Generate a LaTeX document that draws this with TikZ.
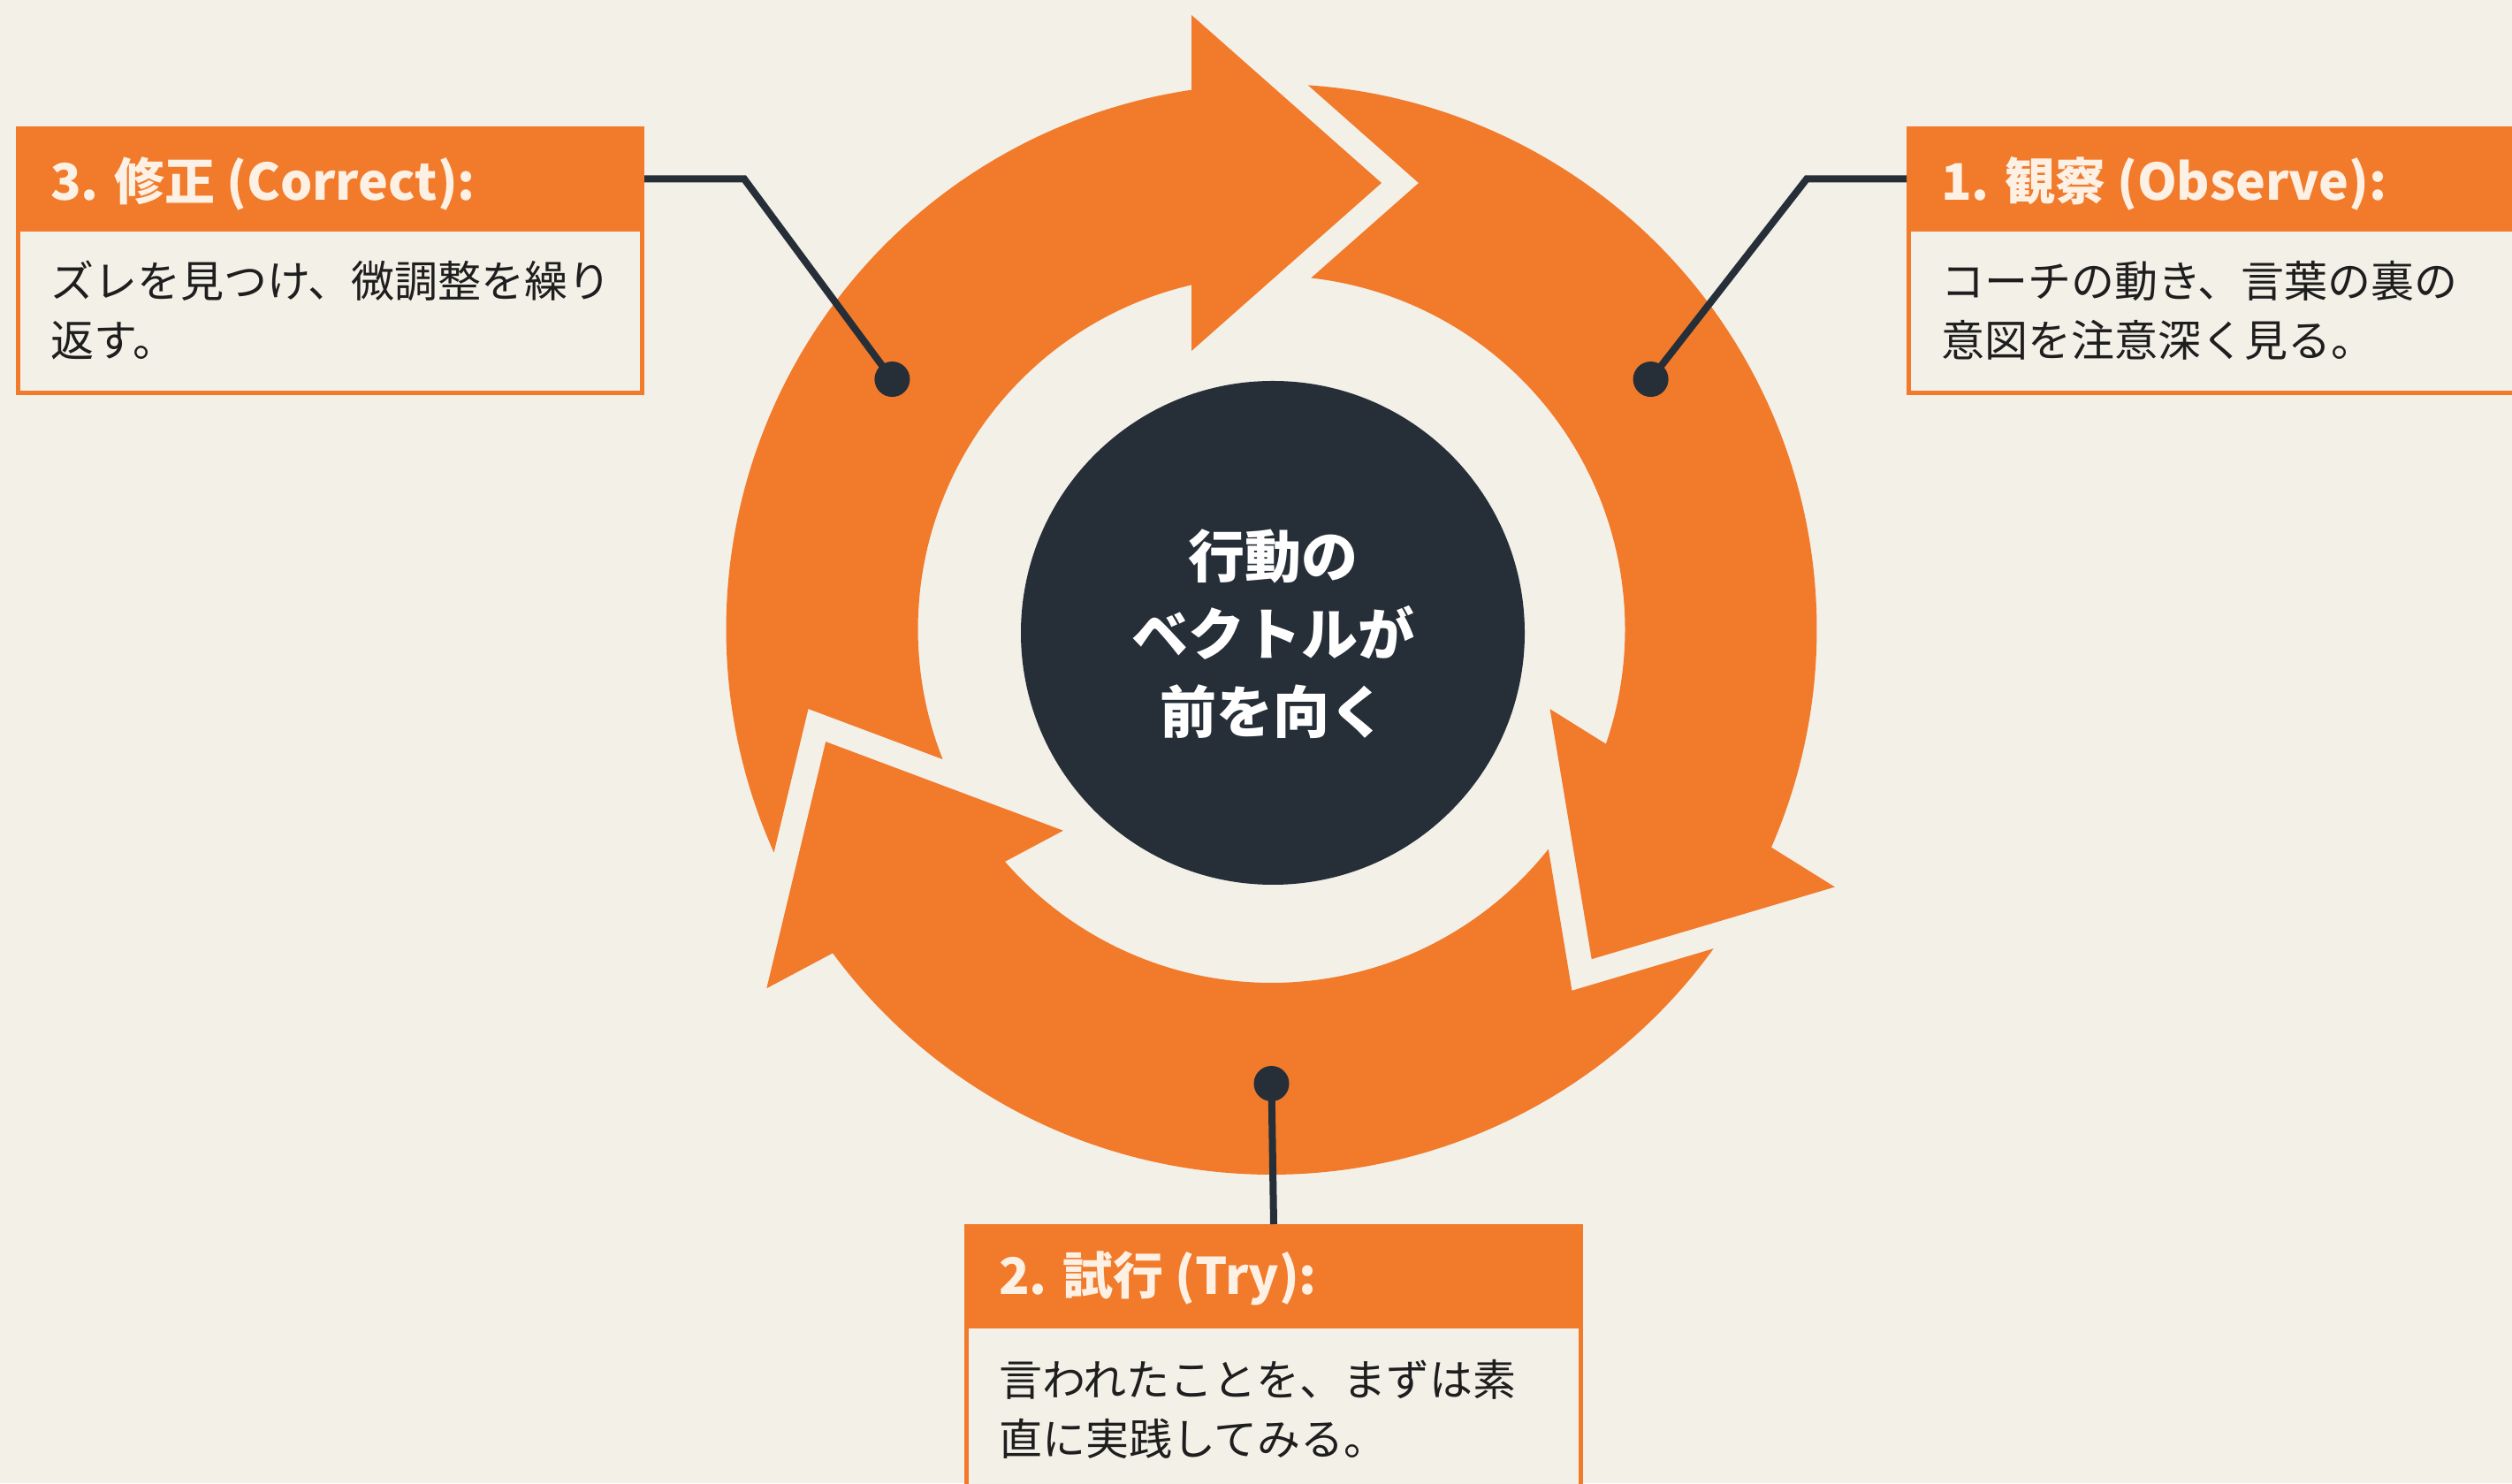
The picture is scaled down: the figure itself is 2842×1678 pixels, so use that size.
\documentclass[tikz,border=0pt]{standalone}
\usepackage{fontspec}
\newfontfamily\jp{Noto Sans CJK JP}
\usetikzlibrary{calc}
\definecolor{bg}{HTML}{F3F0E8}
\definecolor{ora}{HTML}{F27A2B}
\definecolor{dark}{HTML}{262F38}
\definecolor{hdtext}{HTML}{FCF1E4}
\definecolor{bodytext}{HTML}{1E1E1E}
\tikzset{
 hdrbox/.style={fill=ora, draw=ora, line width=5pt, inner sep=0pt, anchor=north west},
 bodybox/.style={fill=bg, draw=ora, line width=5pt, inner sep=0pt, anchor=north west},
 hdrtxt/.style={text=hdtext, font=\jp\bfseries\fontsize{57}{70}\selectfont, anchor=base west, inner sep=0pt},
 bodytxt/.style={text=bodytext, font=\jp\fontsize{49}{67}\selectfont, align=left, anchor=base west, inner sep=0pt},
 centertxt/.style={text=white, font=\jp\bfseries\fontsize{64}{88}\selectfont, align=center, inner sep=0pt},
 hubdisc/.style={circle, fill=dark, minimum size=570pt, inner sep=0pt},
 dotmark/.style={circle, fill=dark, minimum size=40pt, inner sep=0pt},
 conn/.style={draw=dark, line width=8pt},
}
% #1 = rotation of head, #2 = rotation of tail
\newcommand\ringarrow[2]{%
 \fill[ora,shift={(C)}] ({86.16+(#2)}:617) arc[start angle={86.16+(#2)}, end angle={98.43+(#1)}, radius=617]
   -- ({97.42+(#1)}:700.9) -- ({76.15+(#1)}:520.1) -- ({106.03+(#1)}:327.7)
   -- ({103.08+(#1)}:400) arc[start angle={103.08+(#1)}, end angle={83.57+(#2)}, radius=400]
   -- ({71.75+(#2)}:531.7) -- cycle;
}
\begin{document}
\begin{tikzpicture}[x=1pt,y=1pt]
\fill[bg] (0,0) rectangle (2842,1678);
\useasboundingbox (0,0) rectangle (2842,1678);

\coordinate (C) at (1438.5,966);
% three ring arrows
\ringarrow{0}{118}
\ringarrow{-122}{0}
\ringarrow{-242}{-122}

% hub
\node[hubdisc] (hub) at (1440,962) {};
\node[centertxt] (hubtxt) at (1440,961) {行動の\\ベクトルが\\前を向く};

% box 3 (top left)
\node[bodybox, minimum width=706, minimum height=299] (b3) at (18,1535) {};
\node[hdrbox, minimum width=706, minimum height=114] (h3) at (18,1535) {};
\node[hdrtxt] (t3) at (57,1451) {3. 修正 (Correct):};
\node[bodytxt] (x3) at (57,1274) {ズレを見つけ、微調整を繰り\\返す。};

% box 1 (top right)
\node[bodybox, minimum width=743, minimum height=299] (b1) at (2157,1535) {};
\node[hdrbox, minimum width=743, minimum height=114] (h1) at (2157,1535) {};
\node[hdrtxt] (t1) at (2196,1451) {1. 観察 (Observe):};
\node[bodytxt] (x1) at (2196,1274) {コーチの動き、言葉の裏の\\意図を注意深く見る。};

% box 2 (bottom)
\node[bodybox, minimum width=695, minimum height=330] (b2) at (1091,293) {};
\node[hdrbox, minimum width=695, minimum height=113] (h2) at (1091,293) {};
\node[hdrtxt] (t2) at (1130,213) {2. 試行 (Try):};
\node[bodytxt] (x2) at (1130,31) {言われたことを、まずは素\\直に実践してみる。};

% dots on the ring
\node[dotmark] (d3) at ($(C)+(146.6:514)$) {};
\node[dotmark] (d1) at ($(C)+(33.4:514)$) {};
\node[dotmark] (d2) at ($(C)+(-90:514)$) {};

% connectors
\draw[conn] (h3.east) -- ++(113,0) -- (d3.center);
\draw[conn] (h1.west) -- ++(-113,0) -- (d1.center);
\draw[conn] (h2.north) -- (d2.center);
\end{tikzpicture}
\end{document}
